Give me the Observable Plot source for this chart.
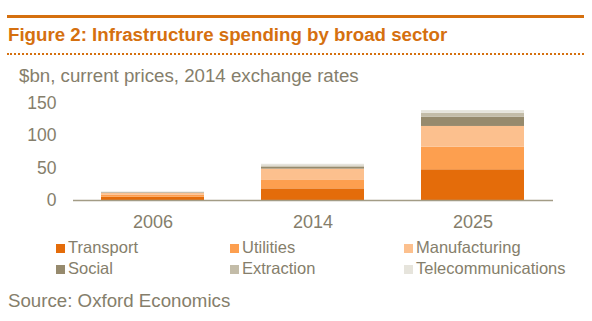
<!DOCTYPE html>
<html>
<head>
<meta charset="utf-8">
<script src="https://cdn.jsdelivr.net/npm/d3@7"></script>
<script src="https://cdn.jsdelivr.net/npm/@observablehq/plot@0.6"></script>
<style>
  html, body { margin: 0; padding: 0; background: #fff; }
  body { width: 592px; height: 321px; position: relative; overflow: hidden; font-family: "Liberation Sans", Arial, sans-serif; color: #857e6b; }
  .topline { position: absolute; left: 7px; top: 15px; width: 577px; height: 3px; background: #d5700f; }
  .title { position: absolute; left: 8px; top: 24px; font-size: 18.7px; font-weight: bold; color: #d5700f; white-space: nowrap; }
  .dots { position: absolute; left: 7px; top: 53px; width: 577px; height: 0; border-top: 2px dotted #d5700f; }
  .subtitle { position: absolute; left: 19px; top: 65px; font-size: 18.7px; white-space: nowrap; }
  #chart { position: absolute; left: 0; top: 88px; }
  #legend { position: absolute; left: 0; top: 238px; width: 592px; }
  .li { position: absolute; font-size: 16.5px; white-space: nowrap; line-height: 19px; }
  .sw { display: inline-block; width: 9px; height: 9px; margin-right: 3px; vertical-align: 0px; }
  .source { position: absolute; left: 8px; top: 290px; font-size: 18.7px; white-space: nowrap; }
</style>
</head>
<body>
<div class="topline"></div>
<div class="title">Figure 2: Infrastructure spending by broad sector</div>
<div class="dots"></div>
<div class="subtitle">$bn, current prices, 2014 exchange rates</div>
<div id="chart"></div>
<div id="legend"></div>
<div class="source">Source: Oxford Economics</div>
<script>
const years = ["2006", "2014", "2025"];
const sectors = ["Transport", "Utilities", "Manufacturing", "Social", "Extraction", "Telecommunications"];
const colors = ["#e46c0a", "#fd9f4f", "#fcc08e", "#968a6d", "#c3bca8", "#e6e4dc"];
const transport = [5, 18, 47.5];
const utilities = [3, 13, 35];
const manufacturing = [3, 17.5, 32];
const social = [0.8, 3, 14.5];
const extraction = [0.6, 2, 6];
const telecommunications = [0.8, 2.5, 4];
const yTicks = [0, 50, 100, 150];

const series = [transport, utilities, manufacturing, social, extraction, telecommunications];
const data = [];
sectors.forEach((s, i) => years.forEach((y, j) => data.push({year: y, sector: s, value: series[i][j]})));

const plot = Plot.plot({
  width: 592,
  height: 144,
  marginLeft: 73,
  marginRight: 39,
  marginTop: 15,
  marginBottom: 32,
  style: {fontFamily: "'Liberation Sans', Arial, sans-serif", fontSize: "18px", color: "#857e6b", background: "transparent"},
  x: {domain: years, paddingInner: 0.356, paddingOuter: 0.178, label: null},
  y: {domain: [0, 150], ticks: yTicks, label: null},
  color: {domain: sectors, range: colors},
  marks: [
    Plot.barY(data, {x: "year", y: "value", fill: "sector", order: sectors}),
    Plot.axisX({tickSize: 0, tickPadding: 15, fontSize: 18, fill: "#857e6b", label: null}),
    Plot.axisY({ticks: yTicks, tickSize: 0, tickPadding: 17, fontSize: 17.5, fill: "#857e6b", label: null}),
    Plot.ruleY([0], {stroke: "#a39c86", strokeWidth: 1.5})
  ]
});
document.getElementById("chart").appendChild(plot);

const legend = document.getElementById("legend");
const lx = [56, 230, 404];
sectors.forEach((s, i) => {
  const d = document.createElement("div");
  d.className = "li";
  d.style.left = lx[i % 3] + "px";
  d.style.top = (Math.floor(i / 3) * 21) + "px";
  d.innerHTML = `<span class="sw" style="background:${colors[i]}"></span>${s}`;
  legend.appendChild(d);
});
</script>
</body>
</html>
